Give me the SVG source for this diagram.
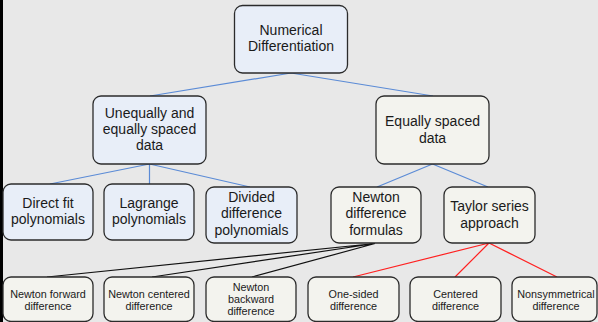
<svg xmlns="http://www.w3.org/2000/svg" width="598" height="322" viewBox="0 0 598 322">
<style>
.bg{fill:#e8e8e8}
.n rect{stroke:#2b2b2b;stroke-width:1.3}
.b rect{fill:#e8eef8}
.y rect{fill:#f3f3ee}
text{font-family:"Liberation Sans",Arial,sans-serif;fill:#1a1a1a;text-anchor:middle}
.t14{font-size:14px}
.t11{font-size:10.8px}
.cb{stroke:#5b8bd6;stroke-width:1.2;fill:none}
.ck{stroke:#111;stroke-width:1.2;fill:none}
.cr{stroke:#ff2020;stroke-width:1.2;fill:none}
</style>
<rect class="bg" x="0" y="0" width="598" height="322"/>
<rect x="0" y="0" width="3" height="322" fill="#000"/>
<g id="connectors">
<path class="cb" d="M291,73 L150,96 M291,73 L433,96 M149.5,164 L50,184 M149.5,164 L149.5,184 M149.5,164 L250,187 M432.5,164 L377,187 M432.5,164 L488,187"/>
<path class="ck" d="M375,243.5 L47,277 M375,243.5 L152,277 M375,243.5 L252,277"/>
<path class="cr" d="M489,243 L353,277 M489,243 L455,277 M489,243 L557,277"/>
</g>
<g id="root" class="n b"><rect x="234.5" y="5.5" width="113" height="67.5" rx="8"/>
<text class="t14" x="291" y="35">Numerical</text><text class="t14" x="291" y="51">Differentiation</text></g>
<g id="unequal" class="n b"><rect x="93" y="96" width="113" height="68" rx="8"/>
<text class="t14" x="149.5" y="118">Unequally and</text><text class="t14" x="149.5" y="134">equally spaced</text><text class="t14" x="149.5" y="150">data</text></g>
<g id="equal" class="n y"><rect x="376" y="96" width="113" height="68" rx="8"/>
<text class="t14" x="432.5" y="126">Equally spaced</text><text class="t14" x="432.5" y="142.5">data</text></g>
<g id="directfit" class="n b"><rect x="3" y="184" width="90" height="56" rx="8"/>
<text class="t14" x="48" y="207.5">Direct fit</text><text class="t14" x="48" y="224">polynomials</text></g>
<g id="lagrange" class="n b"><rect x="104" y="184" width="90" height="56" rx="8"/>
<text class="t14" x="149" y="207.5">Lagrange</text><text class="t14" x="149" y="224">polynomials</text></g>
<g id="divided" class="n b"><rect x="206" y="187" width="91" height="56" rx="8"/>
<text class="t14" x="251.5" y="201.7">Divided</text><text class="t14" x="251.5" y="218.3">difference</text><text class="t14" x="251.5" y="235">polynomials</text></g>
<g id="newtonformulas" class="n y"><rect x="331" y="187" width="90" height="56" rx="8"/>
<text class="t14" x="376" y="201.7">Newton</text><text class="t14" x="376" y="218.3">difference</text><text class="t14" x="376" y="235">formulas</text></g>
<g id="taylor" class="n y"><rect x="444" y="187" width="91" height="56" rx="8"/>
<text class="t14" x="489.5" y="210.7">Taylor series</text><text class="t14" x="489.5" y="228.3">approach</text></g>
<g id="forward" class="n y"><rect x="3" y="277" width="90" height="44.5" rx="8"/>
<text class="t11" x="48" y="298">Newton forward</text><text class="t11" x="48" y="309.5">difference</text></g>
<g id="ncentered" class="n y"><rect x="104" y="277" width="90" height="44.5" rx="8"/>
<text class="t11" x="149" y="298">Newton centered</text><text class="t11" x="149" y="309.5">difference</text></g>
<g id="backward" class="n y"><rect x="206" y="277" width="90" height="44.5" rx="8"/>
<text class="t11" x="251" y="290.5">Newton</text><text class="t11" x="251" y="303">backward</text><text class="t11" x="251" y="315">difference</text></g>
<g id="onesided" class="n y"><rect x="308" y="277" width="91" height="44.5" rx="8"/>
<text class="t11" x="353.5" y="297.5">One-sided</text><text class="t11" x="353.5" y="309.5">difference</text></g>
<g id="centered" class="n y"><rect x="410" y="277" width="91" height="44.5" rx="8"/>
<text class="t11" x="455.5" y="297.5">Centered</text><text class="t11" x="455.5" y="309.5">difference</text></g>
<g id="nonsym" class="n y"><rect x="512" y="277" width="85" height="44.5" rx="8"/>
<text class="t11" x="556" y="297.5">Nonsymmetrical</text><text class="t11" x="556" y="309.5">difference</text></g>
</svg>
